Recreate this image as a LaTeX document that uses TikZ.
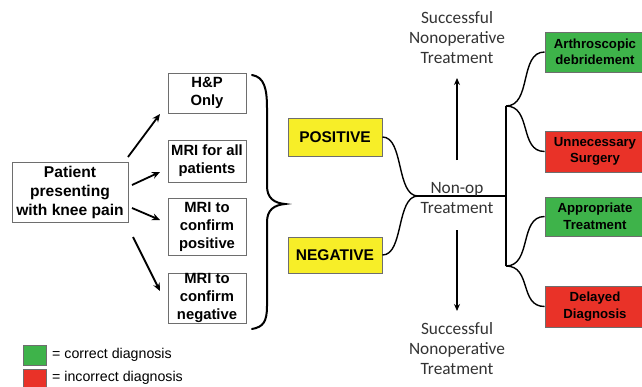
\documentclass[tikz,border=0pt]{standalone}
\usepackage{fontspec}
\setmainfont{Liberation Sans}
\newfontfamily\carlfont{Carlito}
\usetikzlibrary{arrows.meta}
\definecolor{boxgreen}{RGB}{62,179,74}
\definecolor{boxred}{RGB}{233,50,40}
\definecolor{boxyellow}{RGB}{247,238,40}
\definecolor{edgegray}{RGB}{110,110,110}
\begin{document}
\begin{tikzpicture}[x=1pt,y=-1pt,
  box/.style={draw=edgegray,line width=0.9pt,inner sep=0pt,align=center,
    font=\fontsize{14.8}{18}\selectfont\bfseries},
  wbox/.style={box,fill=white},
  ybox/.style={box,fill=boxyellow,font=\fontsize{15.5}{18}\selectfont\bfseries},
  gbox/.style={box,fill=boxgreen,font=\fontsize{13.2}{16.5}\selectfont\bfseries},
  rbox/.style={box,fill=boxred,font=\fontsize{13.2}{16.5}\selectfont\bfseries},
  arr/.style={line width=1.8pt,-{Stealth[length=8pt,width=7pt]}},
  thinarr/.style={line width=1.1pt,-{Stealth[length=7pt,width=6pt]}},
  conn/.style={line width=1.4pt},
  ctext/.style={align=center,font=\carlfont\fontsize{17.3}{20}\selectfont,text=black!80},
  legtext/.style={anchor=west,font=\fontsize{14.2}{16}\selectfont,inner sep=0pt}
]
\useasboundingbox (0,0) rectangle (642,386);
\fill[white] (0,0) rectangle (642,386);

% left boxes
\node[wbox,minimum width=116pt,minimum height=60pt,font=\fontsize{15.6}{19}\selectfont\bfseries] (pat) at (70,192) {Patient\\presenting\\with knee pain};
\node[wbox,minimum width=78pt,minimum height=40pt] (hp) at (207,93) {H\&P\\Only};
\node[wbox,minimum width=78pt,minimum height=42pt] (mall) at (207,161) {MRI for all\\patients};
\node[wbox,minimum width=78pt,minimum height=57pt] (mpos) at (207,226.5) {MRI to\\confirm\\positive};
\node[wbox,minimum width=78pt,minimum height=50pt] (mneg) at (207,298) {MRI to\\confirm\\negative};

% arrows from patient
\coordinate (a1s) at (128,157); \coordinate (a1e) at (160,114);
\coordinate (a2s) at (132,185); \coordinate (a2e) at (160,172);
\coordinate (a3s) at (132,208); \coordinate (a3e) at (160,220);
\coordinate (a4s) at (133,237); \coordinate (a4e) at (160,291);
\draw[arr] (a1s) -- (a1e);
\draw[arr] (a2s) -- (a2e);
\draw[arr] (a3s) -- (a3e);
\draw[arr] (a4s) -- (a4e);

% brace
\draw[line width=2pt,line cap=round]
  (252,75) .. controls (264,77) and (267,88) .. (267,108) -- (267,186)
  .. controls (267,198) and (274,203) .. (285,204)
  .. controls (274,205) and (267,210) .. (267,222) -- (267,306)
  .. controls (267,322) and (263,327) .. (252,329);

% yellow boxes
\node[ybox,minimum width=94pt,minimum height=38pt] (posb) at (335,137) {POSITIVE};
\node[ybox,minimum width=94pt,minimum height=36pt] (negb) at (335,255) {NEGATIVE};

% junctions
\coordinate (J) at (418,196);
\coordinate (K) at (506,196);
\coordinate (T) at (506,106);
\coordinate (B) at (506,266);

\draw[conn] (posb.east) .. controls (404,137) and (396,196) .. (J);
\draw[conn] (negb.east) .. controls (404,255) and (396,196) .. (J);
\draw[conn] (J) -- (K);
\draw[conn] (T) -- (B);

\node[ctext] (nonop) at (457,198) {Non-op\\Treatment};

% up/down
\coordinate (us) at (457,160); \coordinate (ue) at (457,78);
\coordinate (ds) at (457,230); \coordinate (de) at (457,311);
\draw[thinarr] (us) -- (ue);
\draw[thinarr] (ds) -- (de);
\node[ctext] (succtop) at (457,38) {Successful\\Nonoperative\\Treatment};
\node[ctext] (succbot) at (457,349) {Successful\\Nonoperative\\Treatment};

% outcome boxes
\node[gbox,minimum width=100pt,minimum height=40pt] (arth) at (595,52) {Arthroscopic\\debridement};
\node[rbox,minimum width=100pt,minimum height=41pt] (unn) at (595,151.5) {Unnecessary\\Surgery};
\node[gbox,minimum width=100pt,minimum height=39pt] (appr) at (595,216.5) {Appropriate\\Treatment};
\node[rbox,minimum width=100pt,minimum height=41pt] (del) at (595,306.5) {Delayed\\Diagnosis};

\draw[conn] (T) .. controls (532,106) and (519,52) .. (arth.west);
\draw[conn] (T) .. controls (532,106) and (519,151.5) .. (unn.west);
\draw[conn] (B) .. controls (532,266) and (519,216.5) .. (appr.west);
\draw[conn] (B) .. controls (532,266) and (519,306.5) .. (del.west);

% legend
\node[draw=edgegray,line width=0.8pt,fill=boxgreen,minimum width=23pt,minimum height=20pt,inner sep=0pt] (lg) at (34.5,355) {};
\node[draw=edgegray,line width=0.8pt,fill=boxred,minimum width=23pt,minimum height=20pt,inner sep=0pt] (lr) at (34.5,379) {};
\node[legtext] (lgt) at (52,355) {= correct diagnosis};
\node[legtext] (lrt) at (52,378) {= incorrect diagnosis};
\end{tikzpicture}
\end{document}
